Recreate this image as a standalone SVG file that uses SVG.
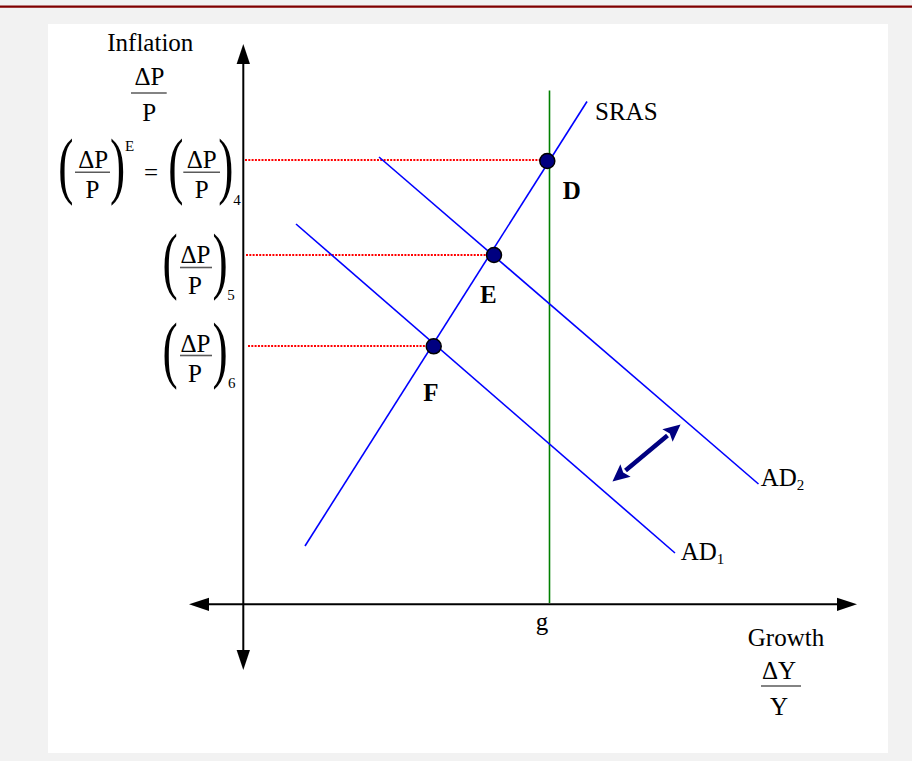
<svg xmlns="http://www.w3.org/2000/svg" width="912" height="761" viewBox="0 0 912 761">
<defs>
<style>
text{font-family:"Liberation Serif","Times New Roman",serif;font-size:25px;fill:#000}
.c{text-anchor:middle}
.b{font-weight:bold}
.s{font-size:15px}
.par{font-size:24px;text-anchor:middle}
.bar{stroke:#5a5a5a;stroke-width:1.6}
.axis{stroke:#000;stroke-width:2;fill:none}
.blue{stroke:#0000ff;stroke-width:1.6;fill:none}
.green{stroke:#008000;stroke-width:1.6;fill:none}
.dot{stroke:#ff0000;stroke-width:2;stroke-dasharray:2 1.3;fill:none}
.pt{fill:#000080;stroke:#000;stroke-width:1.5}
</style>
<marker id="ah" markerUnits="userSpaceOnUse" markerWidth="20" markerHeight="14" refX="0" refY="6" orient="auto-start-reverse" viewBox="0 0 18 12">
<path d="M0,0 L18,6 L0,12 z" fill="#000"/>
</marker>
<marker id="nh" markerUnits="userSpaceOnUse" markerWidth="18" markerHeight="16" refX="0" refY="8" orient="auto-start-reverse" viewBox="0 0 17 16">
<path d="M0,0 L17,8 L0,16 L3,8 z" fill="#000080"/>
</marker>
</defs>
<rect x="0" y="0" width="912" height="761" fill="#f2f2f2"/>
<line x1="0" y1="6.7" x2="912" y2="6.7" stroke="#800000" stroke-width="2.2"/>
<rect x="48" y="24" width="840" height="729" fill="#ffffff"/>

<g id="connectors">
<line class="dot" x1="245" y1="160" x2="540" y2="160"/>
<line class="dot" x1="246" y1="255" x2="487" y2="255"/>
<line class="dot" x1="248" y1="346" x2="426" y2="346"/>
<line class="axis" x1="243.3" y1="650" x2="243.3" y2="64" marker-start="url(#ah)" marker-end="url(#ah)"/>
<line class="axis" x1="209" y1="604.3" x2="837" y2="604.3" marker-start="url(#ah)" marker-end="url(#ah)"/>
<line class="green" x1="549.5" y1="90.5" x2="549.5" y2="603"/>
<line class="blue" x1="305" y1="546" x2="587" y2="101.5"/>
<line class="blue" x1="296" y1="224" x2="675" y2="553"/>
<line class="blue" x1="379" y1="157" x2="758.5" y2="484"/>
<line x1="625.5" y1="470.5" x2="667.5" y2="435.5" stroke="#000080" stroke-width="4.5" marker-start="url(#nh)" marker-end="url(#nh)"/>
</g>

<g id="point-D"><circle class="pt" cx="547.3" cy="161" r="7.5"/><text class="b" x="562.7" y="199">D</text></g>
<g id="point-E"><circle class="pt" cx="494" cy="255" r="7.5"/><text class="b" x="480" y="303.3">E</text></g>
<g id="point-F"><circle class="pt" cx="433.7" cy="346.3" r="7.5"/><text class="b" x="423.3" y="400.7">F</text></g>

<g id="label-SRAS"><text x="595" y="120">SRAS</text></g>
<g id="label-AD2"><text x="760.7" y="486">AD<tspan class="s" dy="4">2</tspan></text></g>
<g id="label-AD1"><text x="680.7" y="560">AD<tspan class="s" dy="4">1</tspan></text></g>
<g id="label-g"><text class="c" x="542" y="630">g</text></g>

<g id="y-axis-title">
<text class="c" x="150.3" y="50.7">Inflation</text>
<text class="c" x="149.5" y="84.7">ΔP</text>
<line class="bar" x1="131" y1="93" x2="166.7" y2="93"/>
<text class="c" x="149.2" y="120.7">P</text>
</g>

<g id="x-axis-title">
<text class="c" x="786" y="645.7">Growth</text>
<text class="c" x="779" y="679">ΔY</text>
<line class="bar" x1="761" y1="686" x2="801" y2="686"/>
<text class="c" x="779" y="715">Y</text>
</g>

<g id="label-expected">
<text class="par" transform="translate(65.8,190) scale(1.9,3.08)">(</text>
<text class="c" x="93.3" y="168.3">ΔP</text>
<line class="bar" x1="75" y1="172.3" x2="110" y2="172.3"/>
<text class="c" x="92.5" y="198.3">P</text>
<text class="par" transform="translate(117.5,190) scale(1.9,3.08)">)</text>
<text class="s" x="125" y="150.7">E</text>
<text class="c" x="151" y="180.5">=</text>
<text class="par" transform="translate(175.8,190) scale(1.9,3.08)">(</text>
<text class="c" x="201.7" y="168.3">ΔP</text>
<line class="bar" x1="183.3" y1="172.3" x2="220" y2="172.3"/>
<text class="c" x="201.7" y="198.3">P</text>
<text class="par" transform="translate(225.8,190) scale(1.9,3.08)">)</text>
<text class="s" x="233.3" y="205">4</text>
</g>

<g id="label-5">
<text class="par" transform="translate(170,285) scale(1.9,3.08)">(</text>
<text class="c" x="195.5" y="263">ΔP</text>
<line class="bar" x1="180" y1="267.5" x2="212" y2="267.5"/>
<text class="c" x="195" y="293.5">P</text>
<text class="par" transform="translate(220,285) scale(1.9,3.08)">)</text>
<text class="s" x="227.3" y="300">5</text>
</g>

<g id="label-6">
<text class="par" transform="translate(170,374) scale(1.9,3.08)">(</text>
<text class="c" x="195.5" y="351.5">ΔP</text>
<line class="bar" x1="180" y1="355.5" x2="212" y2="355.5"/>
<text class="c" x="195" y="381.5">P</text>
<text class="par" transform="translate(220,374) scale(1.9,3.08)">)</text>
<text class="s" x="228" y="388">6</text>
</g>
</svg>
